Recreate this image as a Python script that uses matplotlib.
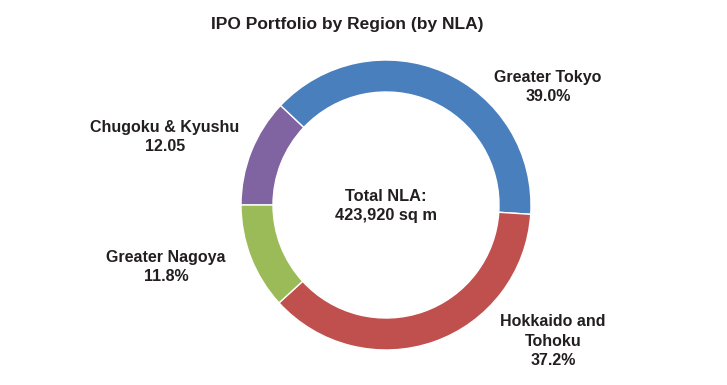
import matplotlib.pyplot as plt

plt.rcParams['font.family'] = ['Liberation Sans', 'DejaVu Sans']

# slices drawn clockwise from the left (9 o'clock)
regions = ["Chugoku & Kyushu", "Greater Tokyo", "Hokkaido and\nTohoku", "Greater Nagoya"]
shares = [12.05, 39.0, 37.2, 11.8]
share_text = ["12.05", "39.0%", "37.2%", "11.8%"]
colors = ["#8064A2", "#4A7FBE", "#C0504D", "#9BBB59"]

title = "IPO Portfolio by Region (by NLA)"
center_text = "Total NLA:\n423,920 sq m"

txt_col = "#231F20"

fig = plt.figure(figsize=(7.27, 3.85), dpi=100)
ax = fig.add_axes([0, 0, 1, 1])

cx, cy, r = 386, 180, 145
ax.pie(shares, colors=colors, startangle=180, counterclock=False,
       center=(cx, cy), radius=r,
       wedgeprops=dict(width=32, edgecolor="white", linewidth=1))
ax.set_xlim(0, 727)
ax.set_ylim(0, 385)
ax.set_aspect("equal")
ax.axis("off")

# label spots (pixels from top-left)
label_pos = [(165, 137), (548, 87), (553, 341), (166, 267)]
for name, val, (x, y) in zip(regions, share_text, label_pos):
    ax.text(x, 385 - y, name + "\n" + val, ha="center", va="center",
            fontsize=11.5, fontweight="bold", color=txt_col, linespacing=1.38)

ax.text(cx, 385 - 206, center_text, ha="center", va="center",
        fontsize=11.8, fontweight="bold", color=txt_col, linespacing=1.38)

ax.text(347, 385 - 25, title, ha="center", va="center",
        fontsize=12.5, fontweight="bold", color=txt_col)

fig.savefig("out.png", dpi=100)
